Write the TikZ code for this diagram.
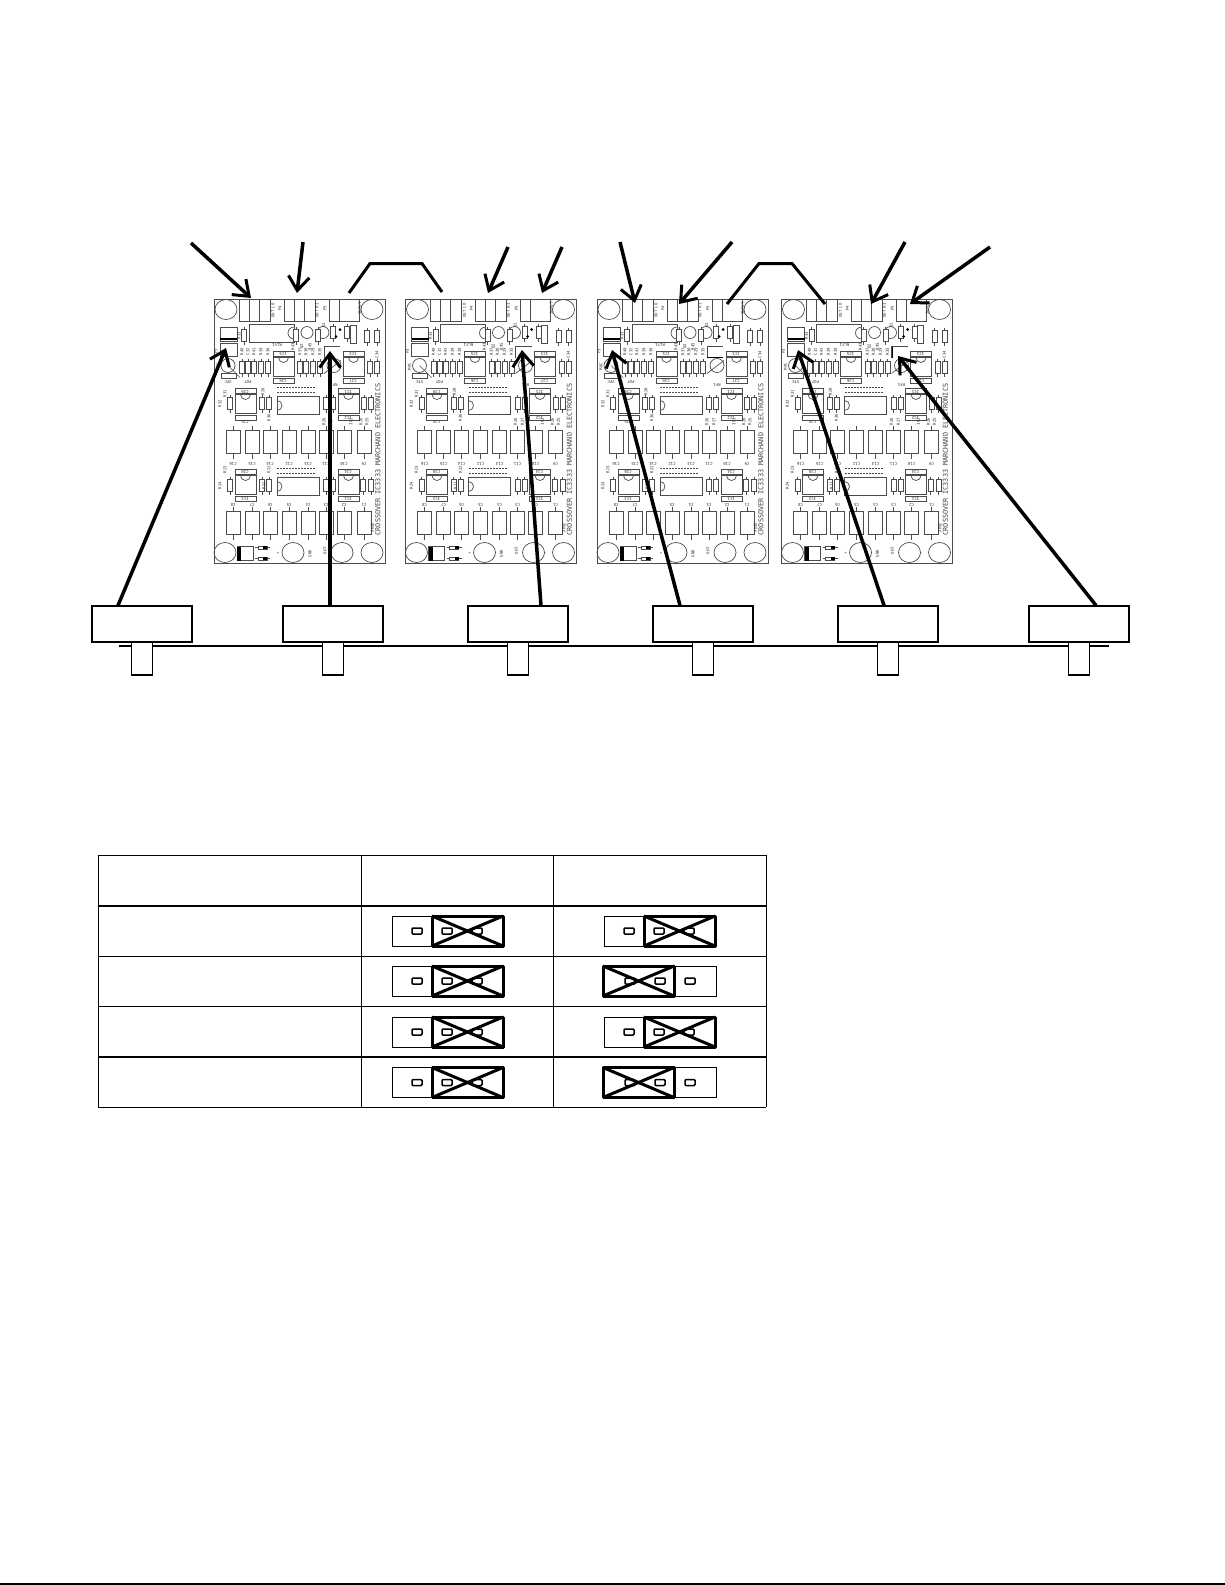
\documentclass[tikz,border=0pt]{standalone}
\usepackage{fontspec}
\setmonofont{DejaVu Sans Mono}
\usepackage{tikz}
\usetikzlibrary{arrows.meta}

\tikzset{
  board/.pic={
    \draw[pcbline] (0,0) rectangle (171,264);
    \foreach \hx/\hy in {12/10,158/10,11/253,79/253,128/253,158/253}
      \draw[pcbline] (\hx,\hy) ellipse [x radius=11,y radius=10];
    % terminal blocks along the top edge
    \foreach \cx/\cw in {25/31,70/31,115/30}
      \draw[pcbline] (\cx,0) rectangle ++(\cw,22);
    \foreach \cx in {35,45,80,90,125}
      \draw[pcbline] (\cx,0) -- (\cx,22);
    % relay and transistors
    \draw[pcbline] (35,24.5) rectangle (80,42.5);
    \draw[pcbline] (80,39.5) arc (90:270:6);
    \foreach \cx in {93,109}
      \draw[pcbline] (\cx,33) circle (6);
    % small boxes on the left
    \draw[pcbline] (6,28) rectangle (23,42);
    \draw[line width=2pt] (6,39.5) -- (23,39.5);
    \draw[pcbline] (6,43.5) rectangle (23,57);
    \draw[pcbline] (14,66) circle (7);
    \draw[pcbline] (7,74) rectangle (22,79);
    \draw[pcbline] (14,66) -- (26,78);
    \draw[pcbline] (120,66) circle (7);
    \draw[pcbline] (110,74) -- (127,61);
    \draw[pcbline] (110,58) -- (110,47) -- (126,47);
    % resistors
    \foreach \rx/\ry in {30/36,82/36,104/36,119/33,133/33,153/37,163/37,
        28/68,34/68,40/68,47/68,54/68,86/68,92/68,99/68,106/68,156/68,163/68,
        16/104,48/104,55/104,112/104,119/104,150/104,157/104,
        16/186,48/186,55/186,112/186,119/186,149/186,157/186} {
      \draw[pcbline] (\rx,\ry-9) -- (\rx,\ry+9);
      \draw[pcbline,fill=white] (\rx-2.5,\ry-6) rectangle (\rx+2.5,\ry+6);
    }
    \draw[pcbline] (136,26) rectangle (142,44);
    \fill (122,37) circle (1.5);
    \fill (126,30) circle (1.5);
    % ICs and their label strips
    \foreach \ix/\iy in {21/95,124/95,59/58,129/58,21/176,124/176} {
      \draw[pcbline] (\ix,\iy) rectangle ++(21,19);
      \draw[pcbline] (\ix+5.5,\iy) arc (180:0:5);
      \draw[pcbline] (\ix,\iy-6) rectangle ++(21,4.5);
      \draw[pcbline] (\ix,\iy+21) rectangle ++(21,4.5);
    }
    \foreach \iy in {97,178} {
      \draw[pcbline] (63,\iy) rectangle ++(42,18);
      \draw[pcbline] (63,\iy+14) arc (90:-90:5);
      \draw[line width=1pt,black!70,dash pattern=on 2pt off 1pt] (63,\iy-4) -- ++(38,0);
      \draw[line width=1pt,black!70,dash pattern=on 2pt off 1pt] (63,\iy-9) -- ++(38,0);
    }
    % two rows of capacitors
    \foreach \py in {131,212}
      \foreach \px in {12,31,49,68,87,105,123,143} {
        \draw[pcbline] (\px+7,\py-5) -- (\px+7,\py+28);
        \draw[pcbline,fill=white] (\px,\py) rectangle ++(14,23);
      }
    % bottom row
    \draw[pcbline] (23,247) rectangle (39,261);
    \fill (23,247) rectangle (27,261);
    \foreach \dy in {248,259} {
      \draw[pcbline] (41,\dy) -- (56,\dy);
      \draw[pcbline,fill=white] (44,\dy-1.5) rectangle (53,\dy+1.5);
      \fill (49,\dy-1.5) rectangle (53,\dy+1.5);
    }
    % printed labels
    \node[pcbtext,rotate=90] (main) at (164,160) {CROSSOVER IC3333 MARCHAND ELECTRONICS};
    \node[pcbsmall,rotate=90] (mod) at (158.5,228) {XHIE};
    \foreach \tn/\tx/\ty/\tt in {a/59/11/OUT LO,b/66/9/P4,c/103/11/OUT HI,d/111/9/P5,
        e/146/9/INPUT,f/25/36/R33,g/79/47/R43,h/96/47/R45,i/88/47/Q2,j/110/26/Q1,
        k/28/52/R40,l/34/52/C32,m/40/52/R41,n/47/52/R39,o/54/52/R38,
        p/86/52/R37,q/92/52/R30,r/99/52/R29,s/106/52/R35,t/163/55/C34,
        u/2/52/P3,v/4/67/MAC,w/6/104/R32,x/11/94/R31,y/49/92/R28,z/55/118/R36,
        aa/110/122/R26,ab/117/122/R27,ac/137/122/IC2,ad/147/122/R26,ae/153/122/R25,
        af/6/186/R24,ag/11/170/R23,ah/50/186/R21,ai/55/170/R22,aj/96/254/GND,ak/111/251/OUT}
      \node[pcbsmall,rotate=90] (lab\tn) at (\tx,\ty) {\tt};
    \foreach \tn/\tx/\ty/\tt in {a/63/45/RLY1,b/14/82/VFC,c/120/85/RF1,d/34/82/POT,
        e/31/92/C29,f/31/122/C25,g/69/54/IC5,h/69/81/C26,i/139/54/IC3,j/139/81/C27,
        k/134/92/IC1,l/134/118/IC2,m/31/172/C28,n/31/199/IC3,o/134/172/C24,p/134/199/IC1,
        q/19/164/C16,r/38/164/C15,s/56/164/C14,t/75/164/C12,u/94/164/C13,v/112/164/C11,
        w/130/164/C10,x/150/164/C9,y/19/205/C8,z/38/205/C7,aa/56/205/C6,ab/75/205/C5,
        ac/94/205/C4,ad/112/205/C3,ae/130/205/C2,af/150/205/C1}
      \node[pcbsmall,rotate=180] (rev\tn) at (\tx,\ty) {\tt};
    \node[pcbsmall] (plus) at (64,254) {+};
    \node[pcbsmall] (minus) at (140,254) {-};
  },
  jumperR/.pic={
    \draw[line width=1pt] (0,-15) rectangle (111,15);
    \draw[cross] (40,-15) rectangle (111,15);
    \draw[cross] (40,-15) -- (111,15);
    \draw[cross] (40,15) -- (111,-15);
    \foreach \px in {25,55,85}
      \draw[pinbox] (\px-5,-3) rectangle (\px+5,3);
  },
  jumperL/.pic={
    \draw[line width=1pt] (1,-15) rectangle (113,15);
    \draw[cross] (0,-15) rectangle (71,15);
    \draw[cross] (0,-15) -- (71,15);
    \draw[cross] (0,15) -- (71,-15);
    \foreach \px in {27,57,87}
      \draw[pinbox] (\px-5,-3) rectangle (\px+5,3);
  }
}

\begin{document}
\begin{tikzpicture}[x=1pt,y=-1pt]
    \tikzstyle{pcbline} = [line width=0.7pt, draw=black!70];
    \tikzstyle{pcbtext} = [inner sep=0pt, text=black!75, font=\ttfamily\fontsize{6.8}{6.8}\selectfont];
    \tikzstyle{pcbsmall} = [inner sep=0pt, text=black!80, font=\ttfamily\fontsize{4}{4}\selectfont];
    \tikzstyle{switchbox} = [draw, fill=white, line width=1.2pt, minimum width=100pt, minimum height=36pt, inner sep=0pt];
    \tikzstyle{post} = [draw, fill=white, line width=1.2pt, minimum width=21pt, minimum height=33pt, inner sep=0pt];
    \tikzstyle{pointer} = [draw, line width=3.5pt, -{Straight Barb[length=14pt,width=21pt,line width=3pt]}];
    \tikzstyle{link} = [draw, line width=3pt];
    \tikzstyle{cross} = [line width=3pt, line join=round];
    \tikzstyle{pinbox} = [line width=1.5pt, rounded corners=1pt];
    \useasboundingbox (0,0) rectangle (1225,1585);

    \pic (bdA) at (214,299.5) {board};
    \pic (bdB) at (405.5,299.5) {board};
    \pic (bdC) at (597,299.5) {board};
    \pic (bdD) at (781.5,299.5) {board};
    \draw[line width=1.5pt] (707,357.5) -- (723,357.5);
    \draw[line width=1.5pt] (892.5,347) -- (892.5,358);

    % front panel
    \coordinate (railL) at (119,646);
    \coordinate (railR) at (1109,646);
    \draw[line width=1.2pt] (railL) -- (railR);
    \foreach \n/\x in {1/142,2/333,3/518,4/703,5/888,6/1079} {
        \node[post] (post\n) at (\x,658.5) {};
        \node[switchbox] (sw\n) at (\x,624) {};
    }

    % arrows from above
    \coordinate (a1) at (191,243);   \coordinate (h1) at (251,298);
    \coordinate (a2) at (303,242);   \coordinate (h2) at (297,293);
    \coordinate (a3) at (508,247);   \coordinate (h3) at (488,293);
    \coordinate (a4) at (562,247);   \coordinate (h4) at (542,293);
    \coordinate (a5) at (620,242);   \coordinate (h5) at (635,303);
    \coordinate (a6) at (732,242);   \coordinate (h6) at (679,304);
    \coordinate (a7) at (905,242);   \coordinate (h7) at (871,304);
    \coordinate (a8) at (990,247);   \coordinate (h8) at (910,304);
    \foreach \n in {1,...,8}
        \path[pointer] (a\n) -- (h\n);

    % links between boards
    \coordinate (l1) at (349,293);   \coordinate (l2) at (370,263.5);
    \coordinate (l3) at (422,263.5); \coordinate (l4) at (442,292);
    \path[link] (l1) -- (l2) -- (l3) -- (l4);
    \coordinate (m1) at (727,304);   \coordinate (m2) at (759,263.5);
    \coordinate (m3) at (792,263.5); \coordinate (m4) at (825,304);
    \path[link] (m1) -- (m2) -- (m3) -- (m4);

    % arrows from the switches
    \coordinate (t1) at (226,348);
    \coordinate (t2) at (330,351);
    \coordinate (t3) at (522,350);
    \coordinate (t4) at (612,350);
    \coordinate (t5) at (798,350);
    \coordinate (t6) at (898,356);
    \path[pointer] ([xshift=-24pt]sw1.north) -- (t1);
    \path[pointer,line width=4.5pt] ([xshift=-3pt]sw2.north) -- (t2);
    \path[pointer] ([xshift=23pt]sw3.north) -- (t3);
    \path[pointer] ([xshift=-23pt]sw4.north) -- (t4);
    \path[pointer] ([xshift=-4pt]sw5.north) -- (t5);
    \path[pointer] ([xshift=17pt]sw6.north) -- (t6);

    % table
    \foreach \lx in {98,361,553,766}
        \draw[line width=1pt] (\lx,855) -- (\lx,1107);
    \foreach \ly/\lw in {855/1pt,906/2pt,956/1pt,1006/1pt,1057/2pt,1107/1pt}
        \draw[line width=\lw] (98,\ly) -- (766,\ly);
    \foreach \ry in {931,981,1032,1082.5}
        \pic (jp\ry) at (392,\ry) {jumperR};
    \pic (jq1) at (604,931) {jumperR};
    \pic (jq2) at (603,981) {jumperL};
    \pic (jq3) at (604,1032) {jumperR};
    \pic (jq4) at (603,1082.5) {jumperL};

    \draw[line width=2pt] (0,1584) -- (1225,1584);
\end{tikzpicture}
\end{document}
